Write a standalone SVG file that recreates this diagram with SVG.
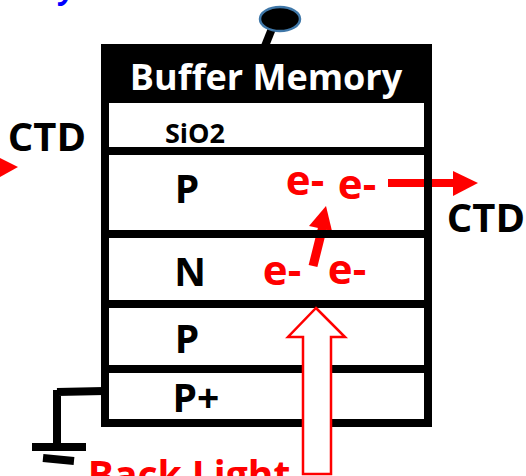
<svg xmlns="http://www.w3.org/2000/svg" width="526" height="476" viewBox="0 0 526 476">
<style>
text{font-family:"Open Sans","Noto Sans",sans-serif;font-weight:700}
.k{fill:#000}.r{fill:#f00}
.l{stroke:#000;stroke-width:8;fill:none}
.big{font-size:39px;text-anchor:middle}
.wide{font-size:42px;text-anchor:middle}
.ctd{font-size:40px;text-anchor:middle}
</style>
<rect width="526" height="476" fill="#fff"/>
<g id="connectors">
<path d="M265 46L273 26" stroke="#000" stroke-width="8" fill="none"/>
<path d="M104 391L57 392M57 390V447" class="l"/>
<path d="M32 447H86" stroke="#000" stroke-width="8"/>
<path d="M43 458L74 461" stroke="#000" stroke-width="8"/>
<path d="M388 183H453" stroke="#f00" stroke-width="8"/>
<path d="M453 171L478 183L453 196Z" class="r"/>
<path d="M313 266L323 226" stroke="#f00" stroke-width="9"/>
<path d="M309 226L326 206L332 231Z" class="r"/>
<path d="M0 158L18 167L0 177Z" class="r"/>
</g>
<g id="buffer-memory">
<rect x="101" y="44" width="331" height="59" class="k"/>
<text x="266" y="90" text-anchor="middle" font-size="36" fill="#fff">Buffer Memory</text>
</g>
<g id="sio2">
<path d="M105 100V155M428 100V155" class="l"/>
<text x="195" y="143" text-anchor="middle" font-size="27" class="k">SiO2</text>
</g>
<g id="p-top">
<path d="M105 151H428M105 151V235M428 151V235" class="l"/>
<text x="187" y="203" class="big k">P</text>
</g>
<g id="n">
<path d="M105 234H428M105 234V305M428 234V305" class="l"/>
<text x="190" y="286" class="big k">N</text>
</g>
<g id="p-mid">
<path d="M105 304H428M105 304V370M428 304V370" class="l"/>
<text x="187" y="353" class="big k">P</text>
</g>
<g id="p-plus">
<path d="M105 369H428M105 369V423M428 369V423M101 423H432" class="l"/>
<text x="196" y="412" class="big k">P+</text>
</g>
<g id="gate"><ellipse cx="280" cy="19" rx="20" ry="12" fill="#000" stroke="#3f77a8" stroke-width="2.500"/></g>
<g id="electrons">
<text x="305" y="195" class="wide r">e-</text>
<text x="357" y="199" class="wide r">e-</text>
<text x="282" y="285" class="wide r">e-</text>
<text x="347" y="284" class="wide r">e-</text>
</g>
<g id="backlight-arrow"><path d="M316 308L345 337H331V474H303V337H288Z" fill="#fff" stroke="#f00" stroke-width="2.500"/></g>
<g id="labels">
<text x="47" y="151" class="ctd k">CTD</text>
<text x="486" y="232" class="ctd k">CTD</text>
<text x="189" y="489" class="big r">Back Light</text>
<text x="60" y="-1" font-size="30" fill="#00f" font-style="italic">y</text>
</g>
</svg>
